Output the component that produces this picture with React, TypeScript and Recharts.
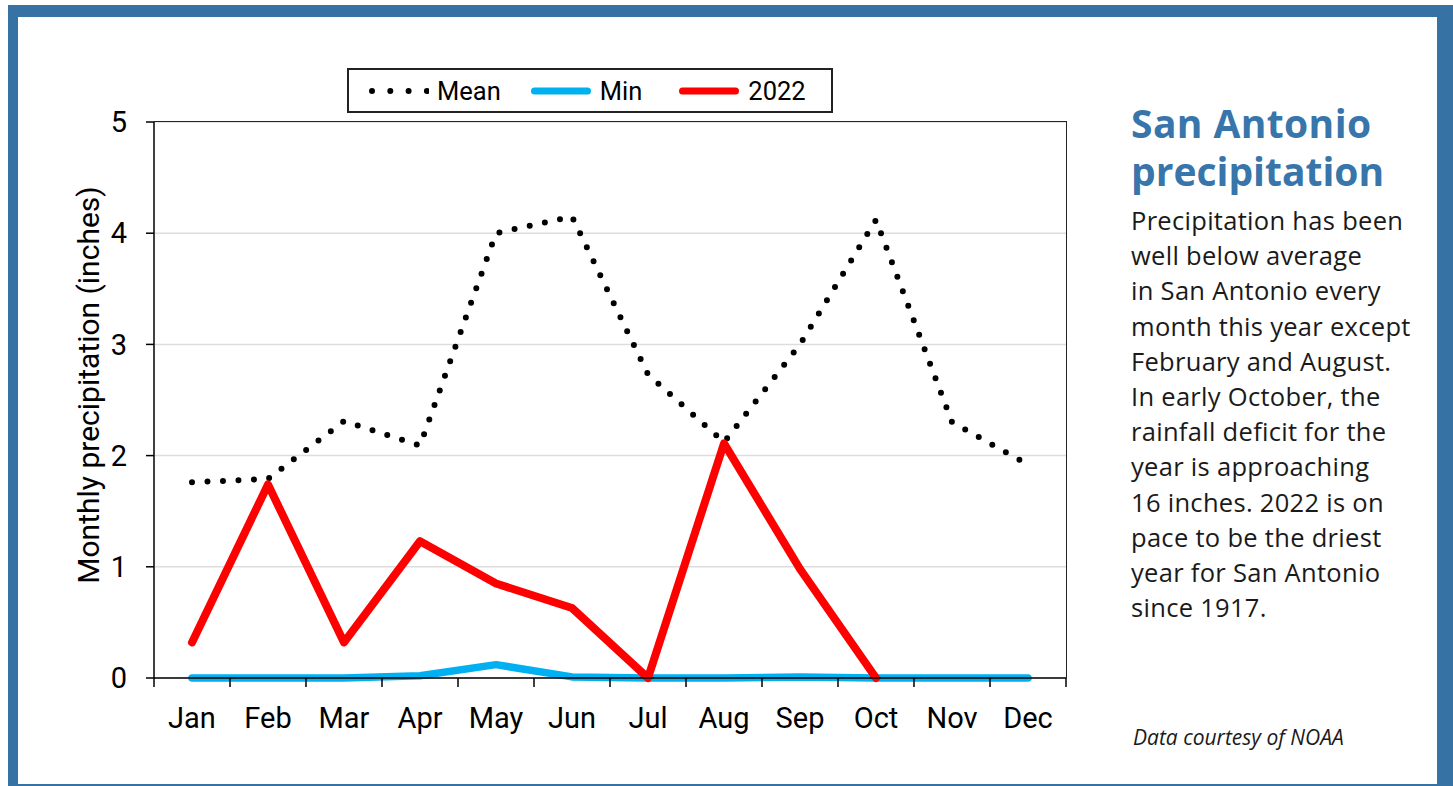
import React from "react"
import {
  LineChart,
  Line,
  XAxis,
  YAxis,
  CartesianGrid,
  Legend
} from "recharts"

// Monthly precipitation, inches
const months = ["Jan", "Feb", "Mar", "Apr", "May", "Jun", "Jul", "Aug", "Sep", "Oct", "Nov", "Dec"]
const meanValues = [1.76, 1.79, 2.31, 2.09, 4.0, 4.15, 2.73, 2.12, 3.0, 4.12, 2.3, 1.92]
const minValues = [0, 0, 0, 0.02, 0.12, 0.01, 0, 0, 0.01, 0, 0, 0]
const values2022: (number | null)[] = [0.32, 1.74, 0.32, 1.23, 0.85, 0.63, 0, 2.11, 0.98, 0, null, null]
const yTicks = [0, 1, 2, 3, 4, 5]

const data = months.map((m, i) => ({
  month: m,
  mean: meanValues[i],
  min: minValues[i],
  y2022: values2022[i]
}))

/* ----------------------- layout ----------------------- */

const CHART_W = 1100
const CHART_H = 786
const PLOT_LEFT = 154
const PLOT_TOP = 122
const PLOT_RIGHT = 1066
const PLOT_BOTTOM = 678
const Y_AXIS_W = 70
const X_AXIS_H = 60
const STEP = (PLOT_RIGHT - PLOT_LEFT) / months.length

const FRAME = "#3672A4"
const TITLE = "#3775AB"
const TICK_FONT = "Roboto, sans-serif"
const TEXT_FONT = "'Open Sans', sans-serif"

function MonthTick(props: any) {
  const { x, payload, index } = props
  const last = index === months.length - 1
  return (
    <g>
      <line x1={x - STEP / 2} x2={x - STEP / 2} y1={PLOT_BOTTOM} y2={PLOT_BOTTOM + 9} stroke="#000" strokeWidth={1.5} />
      {last && (
        <line x1={x + STEP / 2} x2={x + STEP / 2} y1={PLOT_BOTTOM} y2={PLOT_BOTTOM + 9} stroke="#000" strokeWidth={1.5} />
      )}
      <text x={x} y={PLOT_BOTTOM + 50} textAnchor="middle" fontSize={29} fontFamily={TICK_FONT} fill="#000">
        {payload.value}
      </text>
    </g>
  )
}

function AxisTitle() {
  const cx = 88
  const cy = 385
  return (
    <text
      x={cx}
      y={cy}
      transform={`rotate(-90 ${cx} ${cy})`}
      textAnchor="middle"
      dominantBaseline="central"
      fontSize={30}
      fontFamily={TICK_FONT}
      fill="#000"
    >
      Monthly precipitation (inches)
    </text>
  )
}

function LegendBox() {
  const label = (text: string, gap: number) => (
    <span style={{ fontSize: 25.5, fontFamily: TICK_FONT, color: "#000", marginRight: gap }}>{text}</span>
  )
  const solid = (color: string) => (
    <svg width={70} height={12} style={{ marginRight: 6, flex: "none" }}>
      <line x1={10.5} x2={63.5} y1={6} y2={6} stroke={color} strokeWidth={7} strokeLinecap="round" />
    </svg>
  )
  return (
    <div
      style={{
        boxSizing: "border-box",
        width: 486,
        height: 45,
        border: "2px solid #222",
        background: "#fff",
        display: "flex",
        alignItems: "center",
        paddingLeft: 18
      }}
    >
      <svg width={62} height={12} style={{ marginRight: 8, flex: "none" }}>
        <line x1={5} x2={62} y1={6} y2={6} stroke="#000" strokeWidth={6} strokeLinecap="round" strokeDasharray="0 18.3" />
      </svg>
      {label("Mean", 23)}
      {solid("#00B0F0")}
      {label("Min", 30)}
      {solid("#FF0000")}
      {label("2022", 0)}
    </div>
  )
}

const bodyLines = [
  "Precipitation has been",
  "well below average",
  "in San Antonio every",
  "month this year except",
  "February and August.",
  "In early October, the",
  "rainfall deficit for the",
  "year is approaching",
  "16 inches. 2022 is on",
  "pace to be the driest",
  "year for San Antonio",
  "since 1917."
]

export default function App() {
  return (
    <div
      style={{
        position: "fixed",
        left: 0,
        top: 0,
        width: 1453,
        height: 786,
        overflow: "hidden",
        background: "#fff"
      }}
    >
      {/* blue frame */}
      <div
        style={{
          position: "absolute",
          left: 8,
          top: 5,
          width: 1445,
          height: 789,
          boxSizing: "border-box",
          borderStyle: "solid",
          borderColor: FRAME,
          borderWidth: "12px 16px 10px 10px"
        }}
      />

      <div style={{ position: "absolute", left: 0, top: 0 }}>
        <LineChart
          width={CHART_W}
          height={CHART_H}
          data={data}
          margin={{
            top: PLOT_TOP,
            right: CHART_W - PLOT_RIGHT,
            bottom: CHART_H - PLOT_BOTTOM - X_AXIS_H,
            left: PLOT_LEFT - Y_AXIS_W
          }}
        >
          <CartesianGrid vertical={false} stroke="#dddddd" strokeWidth={1.5} />
          <XAxis
            dataKey="month"
            height={X_AXIS_H}
            padding={{ left: STEP / 2, right: STEP / 2 }}
            axisLine={{ stroke: "#000", strokeWidth: 1.5 }}
            tickLine={false}
            tick={<MonthTick />}
            interval={0}
          />
          <YAxis
            width={Y_AXIS_W}
            domain={[0, 5]}
            ticks={yTicks}
            interval={0}
            axisLine={{ stroke: "#000", strokeWidth: 1.5 }}
            tickLine={{ stroke: "#000", strokeWidth: 1.5 }}
            tickSize={8}
            tickMargin={19}
            tick={{ fontSize: 29, fontFamily: TICK_FONT, fill: "#000" }}
            label={<AxisTitle />}
          />
          <Legend
            layout="horizontal"
            verticalAlign="middle"
            align="center"
            wrapperStyle={{ left: 347, top: 68, width: 486, height: 45 }}
            content={() => <LegendBox />}
          />
          <Line
            dataKey="mean"
            name="Mean"
            stroke="#000"
            strokeWidth={6}
            strokeLinecap="round"
            strokeDasharray="0 15.5"
            dot={false}
            activeDot={false}
            isAnimationActive={false}
          />
          <Line
            dataKey="min"
            name="Min"
            stroke="#00B0F0"
            strokeWidth={7.5}
            strokeLinecap="round"
            strokeLinejoin="round"
            dot={false}
            activeDot={false}
            isAnimationActive={false}
          />
          <Line
            dataKey="y2022"
            name="2022"
            stroke="#FF0000"
            strokeWidth={8}
            strokeLinecap="round"
            strokeLinejoin="round"
            dot={false}
            activeDot={false}
            isAnimationActive={false}
          />
        </LineChart>
      </div>

      {/* top and right border of the plot box */}
      <div
        style={{
          position: "absolute",
          left: PLOT_LEFT,
          top: PLOT_TOP - 1,
          width: PLOT_RIGHT - PLOT_LEFT,
          height: PLOT_BOTTOM - PLOT_TOP,
          borderTop: "1.5px solid #222",
          borderRight: "1.5px solid #222",
          pointerEvents: "none"
        }}
      />

      {/* side text */}
      <div
        style={{
          position: "absolute",
          left: 1131,
          top: 99,
          fontFamily: TEXT_FONT,
          whiteSpace: "nowrap",
          color: TITLE,
          fontWeight: 700,
          fontSize: 39,
          lineHeight: "48px",
          letterSpacing: 0.4
        }}
      >
        <div>San Antonio</div>
        <div style={{ letterSpacing: 0 }}>precipitation</div>
      </div>
      <div
        style={{
          position: "absolute",
          left: 1131,
          top: 203,
          fontFamily: TEXT_FONT,
          fontSize: 25.5,
          fontWeight: 400,
          lineHeight: "35.2px",
          letterSpacing: 0.3,
          color: "#1a1a1a",
          whiteSpace: "nowrap"
        }}
      >
        {bodyLines.map((l) => (
          <div key={l}>{l}</div>
        ))}
      </div>
      <div
        style={{
          position: "absolute",
          left: 1133,
          top: 726,
          fontFamily: TEXT_FONT,
          fontStyle: "italic",
          fontSize: 21,
          lineHeight: "22px",
          color: "#1a1a1a",
          whiteSpace: "nowrap"
        }}
      >
        Data courtesy of NOAA
      </div>
    </div>
  )
}
